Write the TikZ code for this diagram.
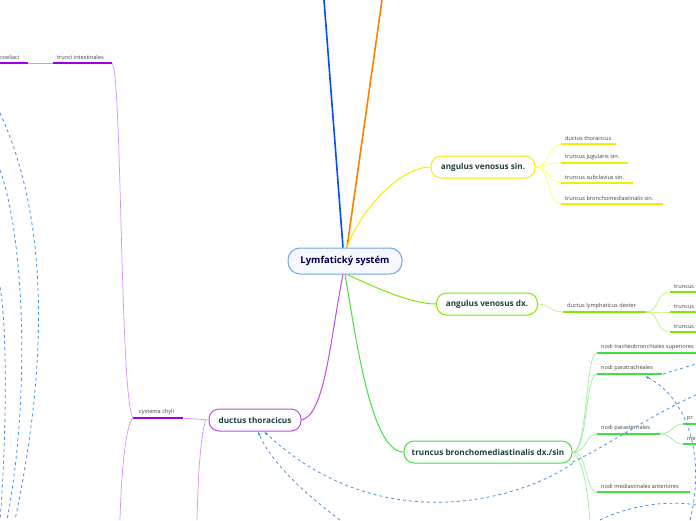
\documentclass[tikz,border=0pt]{standalone}
\usepackage{fontspec}
\setmainfont{Open Sans}
\usetikzlibrary{arrows.meta}
\definecolor{pur}{HTML}{A000E0}
\definecolor{lpur}{HTML}{D690FF}
\definecolor{grn}{HTML}{40E040}
\definecolor{lgrn}{HTML}{98F098}
\definecolor{ygr}{HTML}{80E800}
\definecolor{lygr}{HTML}{C0F080}
\definecolor{yel}{HTML}{F0F000}
\definecolor{lyel}{HTML}{FFFF70}
\definecolor{dash}{HTML}{4A90E0}
\definecolor{txt}{HTML}{1E4040}
\tikzset{
 box/.style={draw=#1, line width=1pt, rounded corners=10pt, fill=white, minimum height=22pt, font=\fontsize{8.2}{9}\selectfont\bfseries, text=txt},
 lbl/.style={anchor=south west, inner sep=1pt, font=\fontsize{5.6}{6.5}\selectfont, text=black!75},
 ul/.style={line width=1.6pt, draw=#1},
 br/.style={line width=0.7pt, draw=#1},
 dsh/.style={dashed, dash pattern=on 3pt off 3pt, draw=dash, line width=0.8pt},
}
\begin{document}
\begin{tikzpicture}[x=1pt,y=-1pt]
\useasboundingbox (0,0) rectangle (696,520);
% root
\node[box=dash!80, minimum width=114pt, minimum height=26pt, rounded corners=12pt, fill=blue!3, font=\fontsize{9.5}{11}\selectfont\bfseries, text=blue!30!black] (root) at (345,261) {Lymfatický systém};
\coordinate (bt) at (324,0); \coordinate (ot) at (382,0);
\draw[line width=1.6pt, draw=blue!70!cyan] (root.north)++(-2,0) coordinate (r1) -- (bt);
\draw[line width=1.6pt, draw=orange] (root.north)++(2,0) coordinate (r2) -- (ot);
% angulus venosus sin
\node[box=yel, minimum width=104pt] (avs) at (483,167) {angulus venosus sin.};
\draw[br=yel, line width=1pt] (r2) .. controls (360,210) and (400,167) .. (avs.west);
\foreach \y/\t/\w in {144/ductus thoracicus/55,163/truncus jugularis sin./67,183/truncus subclavius sin./72,204/truncus bronchomediastinalis sin./102}{
  \coordinate (a\y) at (561,\y);
  \node[lbl] (t\y) at (564,\y-2) {\t};
  \draw[ul=yel] (a\y) -- ++(\w,0);
  \draw[br=lyel] (avs.east) .. controls (550,167) and (548,\y) .. (a\y);
}
% angulus venosus dx
\node[box=ygr, minimum width=101pt] (avd) at (487,304) {angulus venosus dx.};
\draw[br=ygr, line width=1pt] (root.south) ++(2,0) coordinate (r3) (r3) .. controls (370,285) and (410,304) .. (avd.west);
\coordinate (dl) at (563,312);
\node[lbl] (dlt) at (566,310) {ductus lymphaticus dexter};
\draw[ul=ygr] (dl) -- ++(83,0) coordinate (dle);
\draw[br=lygr] (avd.east) .. controls (550,304) and (550,312) .. (dl);
\foreach \y in {292,312,332}{
  \coordinate (d\y) at (670,\y);
  \node[lbl] at (673,\y-2) {truncus};
  \draw[ul=ygr] (d\y) -- (696,\y);
  \draw[br=lygr] (dle) .. controls (660,312) and (655,\y) .. (d\y);
}
% truncus bronchomediastinalis
\node[box=grn, minimum width=168pt] (tbm) at (488,452) {truncus bronchomediastinalis dx./sin};
\draw[br=grn, line width=1pt] (root.south) .. controls (355,330) and (370,452) .. (tbm.west);
\foreach \y/\t/\w in {353/nodi tracheobronchiales superiores/99,374/nodi paratracheales/65,434/nodi parasternales/63,492/nodi mediastinales anteriores/93}{
  \coordinate (n\y) at (597,\y);
  \node[lbl] at (600,\y-2) {\t};
  \draw[ul=grn] (n\y) -- ++(\w,0);
  \draw[br=lgrn] (tbm.east) .. controls (588,452) and (585,\y) .. (n\y);
}
\coordinate (nb) at (590,520);
\draw[br=lgrn] (tbm.east) .. controls (585,460) and (588,500) .. (nb);
\coordinate (pse) at (660,434);
\foreach \y/\t in {424/pr,444/me}{
  \coordinate (p\y) at (683,\y);
  \node[lbl] at (686,\y-2) {\t};
  \draw[ul=grn] (p\y) -- (696,\y);
  \draw[br=lgrn] (pse) .. controls (672,434) and (672,\y) .. (p\y);
}
% ductus thoracicus
\node[box=pur!70, minimum width=92pt] (dt) at (255,420) {ductus thoracicus};
\draw[br=pur!70, line width=1pt] (root.south)++(-2,0) coordinate (r4) (r4) .. controls (330,340) and (325,415) .. (dt.east);
\coordinate (sc) at (133,418);
\node[lbl] at (138,416) {cystema chyli};
\draw[ul=pur] (sc) -- (183,418) coordinate (sce);
\draw[br=lpur] (sce) -- (dt.west);
\coordinate (dtb) at (197,520);
\draw[br=lpur] (dt.west) ++(-3,0) .. controls (200,440) and (198,480) .. (dtb);
\coordinate (ti) at (53,63); \coordinate (tie) at (112,63);
\node[lbl] at (56,61) {trunci intestinales};
\draw[ul=pur] (ti) -- (tie);
\coordinate (tc) at (28,63);
\node[lbl] at (-4,61) {i coeliaci};
\draw[ul=pur] (0,63) -- (tc);
\draw[br=lpur] (tc) -- (ti);
\draw[br=lpur] (tie) .. controls (122,70) and (120,400) .. (sc);
\coordinate (scb) at (120,520);
\draw[br=lpur] (sc) .. controls (125,425) and (121,480) .. (scb);
% dashed relations
\draw[dsh] (0,113) .. controls (40,200) and (55,330) .. (15,520);
\draw[dsh] (0,170) .. controls (25,240) and (30,400) .. (7,520);
\draw[dsh] (0,287) .. controls (8,330) and (6,450) .. (0,520);
\draw[dsh] (n374)++(66,0) -- (696,364);
\draw[dsh,-{Latex[length=4pt]}] (690,520) .. controls (705,460) and (690,400) .. (645,376);
\draw[dsh] (tbm.east)++(0,10) .. controls (600,450) and (660,410) .. (696,395);
\draw[dsh,-{Latex[length=4pt]}] (tbm.south east) .. controls (520,500) and (380,540) .. ([xshift=9pt]dt.south);
\draw[dsh,-{Latex[length=4pt]}] (340,520) .. controls (300,490) and (270,460) .. ([xshift=3pt]dt.south);
\draw[dsh] (600,520) .. controls (630,505) and (670,500) .. (696,505);
\end{tikzpicture}
\end{document}
